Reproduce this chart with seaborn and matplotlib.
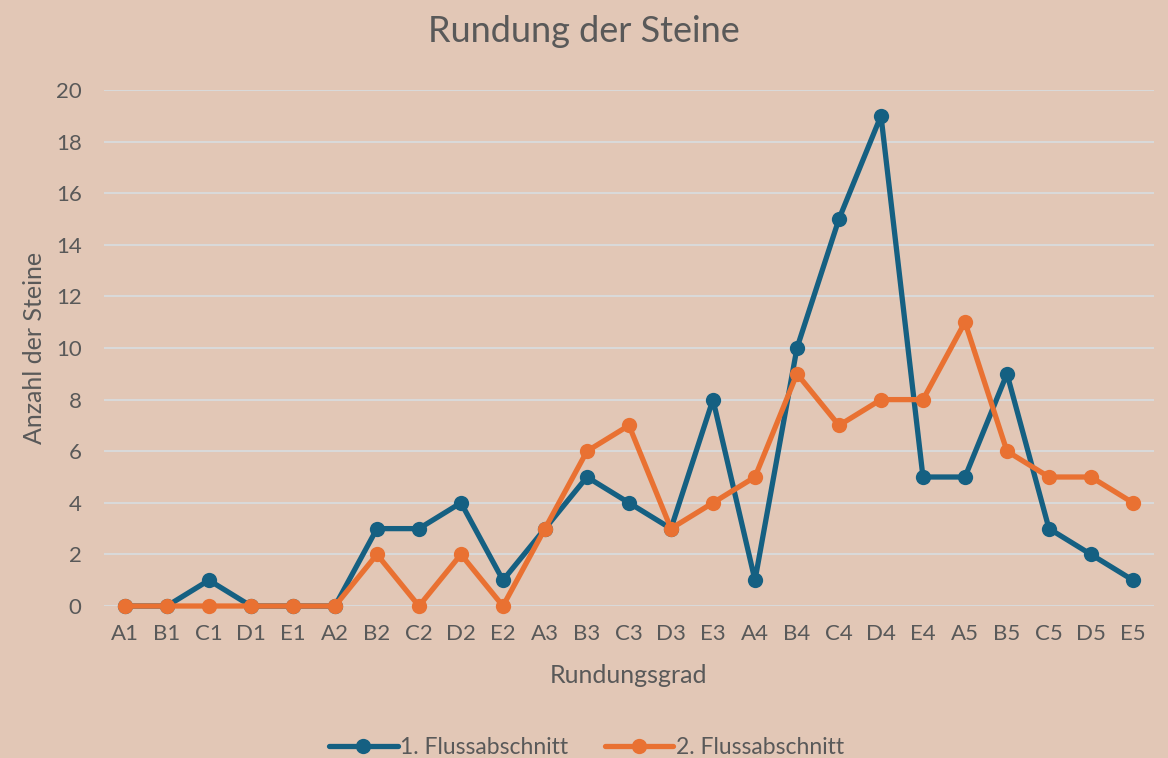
import numpy as np
import pandas as pd
import matplotlib
matplotlib.use("Agg")
import matplotlib.pyplot as plt
import seaborn as sns

# Rundungsgrade (Kategorien auf der x-Achse)
grade = ["A1", "B1", "C1", "D1", "E1", "A2", "B2", "C2", "D2", "E2",
         "A3", "B3", "C3", "D3", "E3", "A4", "B4", "C4", "D4", "E4",
         "A5", "B5", "C5", "D5", "E5"]
abschnitt_1 = [0, 0, 1, 0, 0, 0, 3, 3, 4, 1, 3, 5, 4, 3, 8, 1, 10, 15, 19, 5, 5, 9, 3, 2, 1]
abschnitt_2 = [0, 0, 0, 0, 0, 0, 2, 0, 2, 0, 3, 6, 7, 3, 4, 5, 9, 7, 8, 8, 11, 6, 5, 5, 4]
serien = ["1. Flussabschnitt", "2. Flussabschnitt"]

bg = "#E2C7B6"
text_col = "#595959"
farben = ["#156082", "#E97132"]

sns.set_theme(style="white")
plt.rcParams["font.family"] = ["Lato", "DejaVu Sans"]

df = pd.DataFrame({"grad": grade * 2,
                   "anzahl": abschnitt_1 + abschnitt_2,
                   "serie": [serien[0]] * len(grade) + [serien[1]] * len(grade)})
df["pos"] = list(range(len(grade))) * 2

fig = plt.figure(figsize=(11.68, 7.58), dpi=100, facecolor=bg)
ax = fig.add_axes([0.089, 0.2005, 0.899, 0.6808])
ax.set_facecolor(bg)

sns.lineplot(data=df, x="pos", y="anzahl", hue="serie", palette=farben,
             marker="o", markersize=11, markeredgewidth=0, linewidth=3.8,
             ax=ax, clip_on=False, zorder=3)

ax.set_xlim(-0.5, len(grade) - 0.5)
ax.set_ylim(0, 20)
ax.set_yticks(range(0, 21, 2))
ax.set_xticks(range(len(grade)))
ax.set_xticklabels(grade)
ax.grid(axis="y", color="#D9D9D9", linewidth=1.5, zorder=0)
ax.grid(axis="x", visible=False)
for s in ax.spines.values():
    s.set_visible(False)
ax.tick_params(axis="both", colors=text_col, labelsize=16, length=0)
ax.tick_params(axis="y", pad=16)
ax.tick_params(axis="x", pad=13)

ax.set_xlabel("Rundungsgrad", fontsize=18, color=text_col, labelpad=14)
ax.set_ylabel("Anzahl der Steine", fontsize=18, color=text_col, labelpad=7)
fig.suptitle("Rundung der Steine", fontsize=26, color=text_col, x=0.5, y=0.98)

ax.get_legend().remove()
handles, labels = ax.get_legend_handles_labels()
fig.legend(handles, labels, loc="lower center", bbox_to_anchor=(0.502, -0.027),
           ncol=2, frameon=False, fontsize=16.5, labelcolor=text_col,
           handlelength=3.0, handletextpad=0.1, columnspacing=1.6)

fig.savefig("out.png", dpi=100, facecolor=bg)
